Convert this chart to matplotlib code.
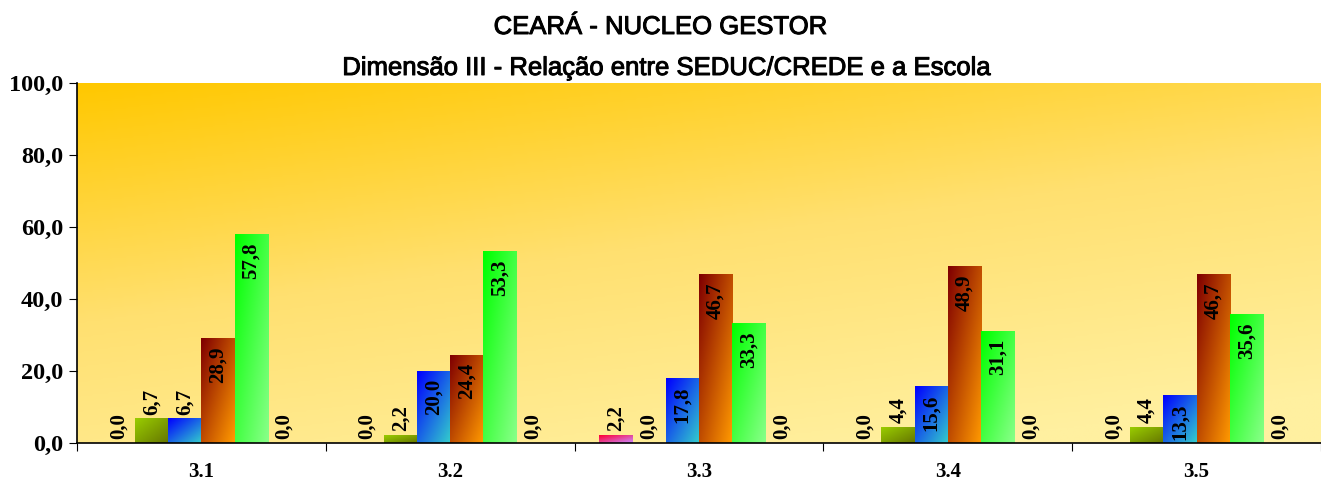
import numpy as np
import matplotlib
matplotlib.use("Agg")
import matplotlib.pyplot as plt
import matplotlib.patheffects as pe
from matplotlib.colors import LinearSegmentedColormap

categories = ["3.1", "3.2", "3.3", "3.4", "3.5"]
series_values = [
    [0.0, 0.0, 2.2, 0.0, 0.0],
    [6.7, 2.2, 0.0, 4.4, 4.4],
    [6.7, 20.0, 17.8, 15.6, 13.3],
    [28.9, 24.4, 46.7, 48.9, 46.7],
    [57.8, 53.3, 33.3, 31.1, 35.6],
    [0.0, 0.0, 0.0, 0.0, 0.0],
]
yticks = [0, 20, 40, 60, 80, 100]
title1 = "CEARÁ - NUCLEO GESTOR"
title2 = "Dimensão III - Relação entre SEDUC/CREDE e a Escola"

# gradient pairs (top-left colour, bottom-right colour)
bar_grads = [
    ("#ff0033", "#cc88ff"),
    ("#99cc00", "#667700"),
    ("#0000ff", "#33cccc"),
    ("#800000", "#ff9900"),
    ("#00ff00", "#88ff88"),
    ("#999999", "#dddddd"),
]

fig = plt.figure(figsize=(13.21, 4.82), dpi=100)
ax = fig.add_axes([77/1321, 1-443/482, 1-77/1321, (443-83)/482])

n_cat = len(categories)
n_ser = len(series_values)
width = 0.8 / n_ser
x = np.arange(n_cat)

# background gradient (row 0 = top)
gy, gx = np.mgrid[0:1:200j, 0:1:400j]
t = np.clip(0.75 * gy + 0.35 * gx, 0, 1)
bg_cmap = LinearSegmentedColormap.from_list("bg", ["#ffc800", "#ffe070", "#fff0a0"])
ax.imshow(t, extent=[-0.5, n_cat - 0.5, 0, 100], origin="upper", cmap=bg_cmap,
          aspect="auto", zorder=0, interpolation="bilinear")

def grad_img(c0, c1):
    yy, xx = np.mgrid[0:1:40j, 0:1:20j]
    tt = np.clip(0.5 * yy + 0.5 * xx, 0, 1)
    cm = LinearSegmentedColormap.from_list("g", [c0, c1])
    return tt, cm

lab_font = dict(fontsize=15, fontweight="bold", family="Liberation Serif", zorder=3)
for i, vals in enumerate(series_values):
    pos = x - 0.4 + width * (i + 0.5)
    bars = ax.bar(pos, vals, width, color="none", edgecolor="none", zorder=2)
    tt, cm = grad_img(*bar_grads[i])
    for b, v in zip(bars, vals):
        if v > 0:
            x0 = b.get_x()
            ax.imshow(tt, extent=[x0, x0 + b.get_width(), 0, v], origin="upper",
                      cmap=cm, aspect="auto", zorder=2, interpolation="bilinear")
        lab = f"{v:.1f}".replace(".", ",")
        cx = b.get_x() + b.get_width() / 2
        if v >= 10:
            ax.text(cx, v - 2.2, lab, rotation=90, ha="center", va="top", **lab_font)
        else:
            ax.text(cx, v + 1.2, lab, rotation=90, ha="center", va="bottom", **lab_font)

ax.set_xlim(-0.5, n_cat - 0.5)
ax.set_ylim(0, 100)
ax.set_yticks(yticks)
ax.set_yticklabels([f"{v:.1f}".replace(".", ",") for v in yticks],
                   fontsize=17.5, fontweight="bold", family="Liberation Serif")
ax.set_xticks(np.arange(n_cat + 1) - 0.5)
ax.set_xticklabels([])
ax.set_xticks(x, minor=True)
ax.set_xticklabels(categories, minor=True, fontsize=15, fontweight="bold",
                   family="Liberation Serif")
ax.tick_params(axis="x", which="minor", length=0, pad=14)
ax.tick_params(axis="x", which="major", length=6, direction="out")
ax.tick_params(axis="y", length=6, direction="out", pad=4)
for s in ["top", "right"]:
    ax.spines[s].set_visible(False)
ax.spines["left"].set_linewidth(1.2)
ax.spines["bottom"].set_linewidth(1.2)

stroke = [pe.withStroke(linewidth=0.7, foreground="black")]
fig.text(0.5, 1 - 27/482, title1, ha="center", va="center", fontsize=18.5,
         family="Liberation Sans", path_effects=stroke)
fig.text(0.505, 1 - 68/482, title2, ha="center", va="center", fontsize=18.5,
         family="Liberation Sans", path_effects=stroke)

fig.savefig("out.png", dpi=100)
